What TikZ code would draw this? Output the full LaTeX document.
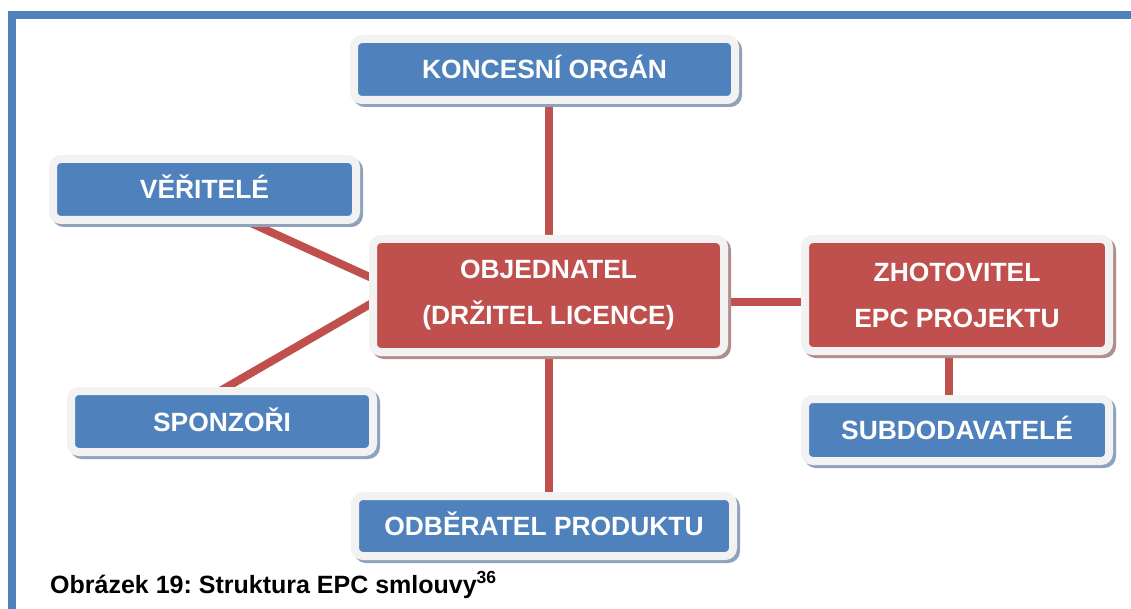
\documentclass[tikz,border=0pt]{standalone}
\usepackage{fontspec}
\setmainfont{Liberation Sans}
\usetikzlibrary{calc,backgrounds}

\definecolor{boxblue}{HTML}{4F81BD}
\definecolor{boxred}{HTML}{C0504D}
\definecolor{rim}{HTML}{F2F2F2}
\definecolor{shadeblue}{HTML}{8FA2BC}
\definecolor{shadered}{HTML}{B08E8E}
\definecolor{linkred}{HTML}{C0504D}

\pgfdeclarelayer{paper}
\pgfsetlayers{paper,background,main}

\tikzset{
  card/.style 2 args={draw=rim, line width=8pt, fill=#1, rounded corners=8pt,
    inner sep=0pt, outer sep=0pt, text=white, align=center,
    font=\fontsize{26.4}{46}\selectfont\bfseries,
    preaction={draw=#2, fill=#2, line width=8pt,
      transform canvas={shift={(3pt,-3pt)}}}},
  bluecard/.style={card={boxblue}{shadeblue}, text height=19pt, text depth=0pt},
  redcard/.style={card={boxred}{shadered}},
  link/.style={draw=linkred, line width=8pt},
  caption/.style={font=\fontsize{25}{29}\selectfont\bfseries, anchor=base west, inner sep=0pt},
}

\begin{document}
\frenchspacing
\begin{tikzpicture}[x=1pt, y=-1pt]
  \useasboundingbox (0,0) rectangle (1131,609);
  \begin{pgfonlayer}{paper}
    \fill[white] (0,0) rectangle (1131,609);
    % page frame
    \fill[boxblue] (8,11) rectangle (1131,19);
    \fill[boxblue] (8,11) rectangle (16,609);
  \end{pgfonlayer}

  % parties
  \node[redcard, minimum width=351pt, minimum height=113pt] (obj) at (548.5,295.5)
    {OBJEDNATEL\\(DRŽITEL LICENCE)};
  \node[redcard, minimum width=304pt, minimum height=112pt] (zho) at (957,295)
    {ZHOTOVITEL\\EPC PROJEKTU};
  \node[bluecard, minimum width=381pt, minimum height=61pt] (kon) at (544.5,69.5)
    {KONCESNÍ ORGÁN};
  \node[bluecard, minimum width=303pt, minimum height=61pt] (ver) at (204.5,189.5)
    {VĚŘITELÉ};
  \node[bluecard, minimum width=302pt, minimum height=61pt] (spo) at (222,421.5)
    {SPONZOŘI};
  \node[bluecard, minimum width=378pt, minimum height=60pt] (odb) at (544,526)
    {ODBĚRATEL PRODUKTU};
  \node[bluecard, minimum width=304pt, minimum height=62pt] (sub) at (957,430)
    {SUBDODAVATELÉ};

  % attachment points of the relations
  \coordinate (objR) at ($(obj.east)+(0,6.5)$);
  \coordinate (zhoB) at ($(zho.south)+(-8,0)$);

  % relations, drawn beneath the cards
  \begin{scope}[on background layer]
    \draw[link] (obj.north) -- (obj.north |- kon.south);
    \draw[link] (obj.south) -- (obj.south |- odb.north);
    \draw[link] (objR) -- (objR -| zho.west);
    \draw[link] (zhoB) -- (zhoB |- sub.north);
    \draw[link] ($(ver.south)+(39.7,0)$) -- ($(obj.west)+(0,-17)$);
    \draw[link] ($(spo.north)+(-2,0)$) -- ($(obj.west)+(0,7)$);
  \end{scope}

  \node[caption] (cap) at (50,593) {Obrázek 19: Struktura EPC smlouvy\textsuperscript{36}};
\end{tikzpicture}
\end{document}
